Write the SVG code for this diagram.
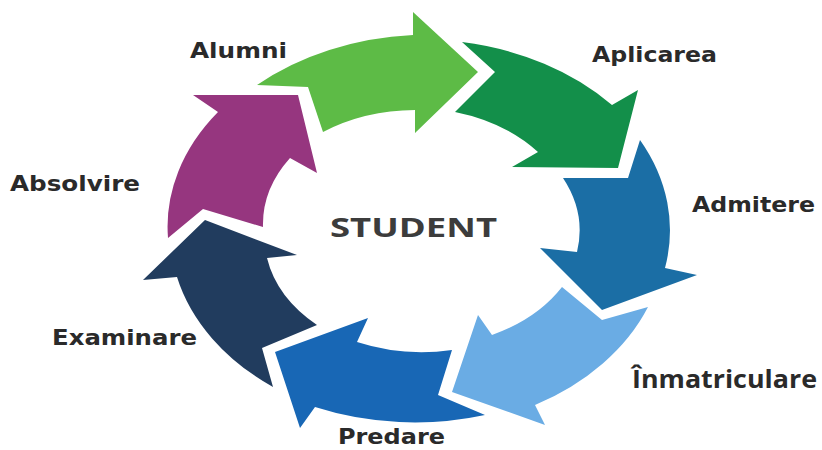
<svg xmlns="http://www.w3.org/2000/svg" width="822" height="450" viewBox="0 0 822 450">
<style>
.lbl{font-family:"DejaVu Sans","Liberation Sans",sans-serif;font-weight:bold;font-size:21px;fill:#2a2a2a}
.lbl2{font-family:"Open Sans","Liberation Sans",sans-serif;font-weight:bold;font-size:25px;fill:#2a2a2a}
.ctr{font-family:"Open Sans","Liberation Sans",sans-serif;font-weight:bold;font-size:26px;fill:#3c3c3c}
</style>
<rect width="822" height="450" fill="#ffffff"/>
<g id="node-alumni">
<path d="M257,85 A255 192 0 0 1 413,35 L413,12 L478,72 L415,133 L415,110 A162 120 0 0 0 323,132 L308,87 Z" fill="#5dbb46"/>
<text class="lbl" x="190" y="58" textLength="97" lengthAdjust="spacingAndGlyphs">Alumni</text>
</g>
<g id="node-aplicarea">
<path d="M462,42 A255 192 0 0 1 612,105 L638,90 L618,168 L512,167 L538,152 A162 120 0 0 0 455,112 L495,72 Z" fill="#138f4a"/>
<text class="lbl" x="592" y="62" textLength="125" lengthAdjust="spacingAndGlyphs">Aplicarea</text>
</g>
<g id="node-admitere">
<path d="M640,140 A255 192 0 0 1 665,268 L697,275 L602,310 L540,248 L577,252 A162 120 0 0 0 563,178 L628,178 Z" fill="#1b6ea5"/>
<text class="lbl" x="692" y="212" textLength="123" lengthAdjust="spacingAndGlyphs">Admitere</text>
</g>
<g id="node-inmatriculare">
<path d="M648,307 A255 192 0 0 1 535,405 L545,425 L452,392 L478,315 L492,335 A162 120 0 0 0 562,287 L602,320 Z" fill="#6aace4"/>
<text class="lbl2" x="632" y="388" textLength="185" lengthAdjust="spacingAndGlyphs">Înmatriculare</text>
</g>
<g id="node-predare">
<path d="M485,415 A255 192 0 0 1 315,407 L300,428 L275,352 L368,318 L357,342 A162 120 0 0 0 452,350 L438,395 Z" fill="#1867b5"/>
<text class="lbl" x="338" y="444" textLength="107" lengthAdjust="spacingAndGlyphs">Predare</text>
</g>
<g id="node-examinare">
<path d="M273,387 A255 192 0 0 1 177,277 L143,280 L205,220 L297,255 L267,258 A162 120 0 0 0 317,325 L262,348 Z" fill="#213c5e"/>
<text class="lbl" x="52" y="345" textLength="145" lengthAdjust="spacingAndGlyphs">Examinare</text>
</g>
<g id="node-absolvire">
<path d="M168,238 A255 192 0 0 1 218,112 L193,95 L298,95 L317,173 L290,158 A162 120 0 0 0 263,227 L203,209 Z" fill="#96367f"/>
<text class="lbl" x="10" y="191" textLength="130" lengthAdjust="spacingAndGlyphs">Absolvire</text>
</g>
<g id="node-student">
<text class="ctr" x="330" y="237" textLength="167" lengthAdjust="spacingAndGlyphs">STUDENT</text>
</g>
</svg>
